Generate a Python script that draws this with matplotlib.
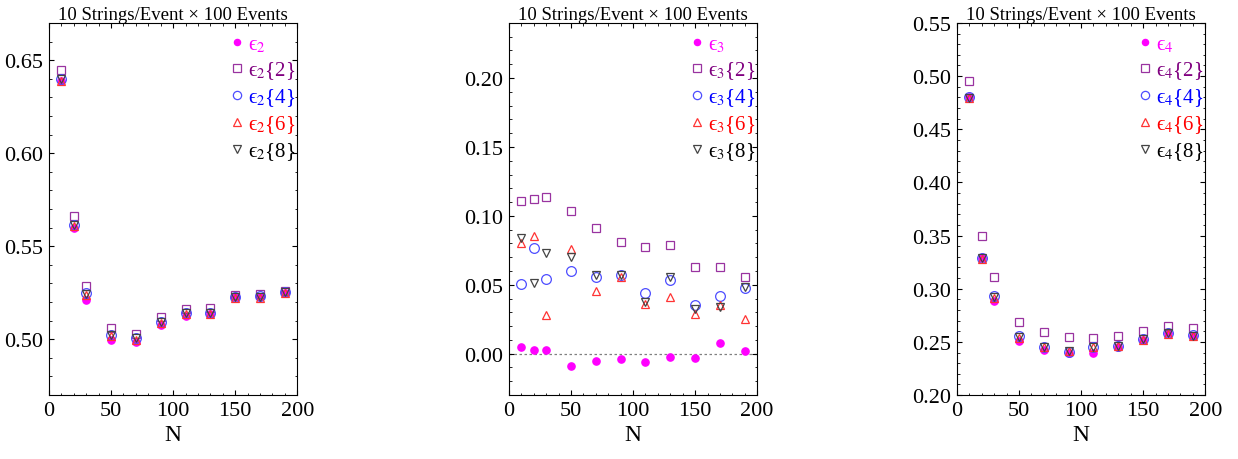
import numpy as np
import matplotlib.pyplot as plt
from matplotlib.ticker import MultipleLocator, FormatStrFormatter

plt.rcParams['font.family'] = ['Liberation Serif', 'DejaVu Serif']
plt.rcParams['mathtext.fontset'] = 'stix'

# число струн N
N = [10, 20, 30, 50, 70, 90, 110, 130, 150, 170, 190]

# eps_2
e2 = [0.6390, 0.5597, 0.5210, 0.4995, 0.4986, 0.5075, 0.5125, 0.5134, 0.5228, 0.5225, 0.5251]
e2_2 = [0.6446, 0.5661, 0.5287, 0.5063, 0.5030, 0.5122, 0.5161, 0.5167, 0.5237, 0.5244, 0.5260]
e2_4 = [0.6396, 0.5613, 0.5247, 0.5022, 0.5004, 0.5090, 0.5143, 0.5143, 0.5228, 0.5230, 0.5255]
e2_6 = [0.6390, 0.5608, 0.5240, 0.5018, 0.4998, 0.5087, 0.5135, 0.5138, 0.5222, 0.5222, 0.5250]
e2_8 = [0.6400, 0.5615, 0.5245, 0.5025, 0.5005, 0.5092, 0.5140, 0.5143, 0.5226, 0.5228, 0.5254]

# eps_3
e3 = [0.0051, 0.0029, 0.0030, -0.0092, -0.0056, -0.0041, -0.0063, -0.0022, -0.0029, 0.0080, 0.0022]
e3_2 = [0.1107, 0.1119, 0.1140, 0.1039, 0.0915, 0.0814, 0.0777, 0.0792, 0.0632, 0.0632, 0.0554]
e3_4 = [0.0509, 0.0770, 0.0545, 0.0598, 0.0560, 0.0574, 0.0443, 0.0533, 0.0351, 0.0416, 0.0479]
e3_6 = [0.0800, 0.0855, 0.0280, 0.0763, 0.0453, 0.0560, 0.0358, 0.0412, 0.0288, 0.0353, 0.0249]
e3_8 = [0.0840, 0.0516, 0.0734, 0.0700, 0.0569, 0.0574, 0.0375, 0.0554, 0.0327, 0.0339, 0.0487]

# eps_4
e4 = [0.4800, 0.3290, 0.2888, 0.2507, 0.2422, 0.2400, 0.2400, 0.2453, 0.2519, 0.2579, 0.2557]
e4_2 = [0.4950, 0.3495, 0.3108, 0.2683, 0.2589, 0.2548, 0.2541, 0.2557, 0.2598, 0.2645, 0.2630]
e4_4 = [0.4800, 0.3290, 0.2935, 0.2557, 0.2456, 0.2409, 0.2456, 0.2463, 0.2526, 0.2579, 0.2567]
e4_6 = [0.4790, 0.3280, 0.2910, 0.2540, 0.2450, 0.2410, 0.2450, 0.2460, 0.2520, 0.2570, 0.2560]
e4_8 = [0.4790, 0.3290, 0.2920, 0.2550, 0.2450, 0.2410, 0.2450, 0.2460, 0.2530, 0.2580, 0.2560]

panels = [
    (2, [e2, e2_2, e2_4, e2_6, e2_8], (0.47, 0.67), [0.50, 0.55, 0.60, 0.65]),
    (3, [e3, e3_2, e3_4, e3_6, e3_8], (-0.03, 0.24), [0.00, 0.05, 0.10, 0.15, 0.20]),
    (4, [e4, e4_2, e4_4, e4_6, e4_8], (0.20, 0.55), [0.20, 0.25, 0.30, 0.35, 0.40, 0.45, 0.50, 0.55]),
]

magenta = '#ff00ff'
purple = '#800080'
blue = '#0000ff'
red = '#ff0000'
black = '#000000'

fig = plt.figure(figsize=(12.38, 4.6), dpi=100)
lefts = [0.0396, 0.4111, 0.7730]

for left, (n, series, ylim, yt) in zip(lefts, panels):
    ax = fig.add_axes([left, 0.139, 0.2005, 0.809])
    s, s2, s4, s6, s8 = series
    ax.plot(N, s, 'o', ms=5.2, color=magenta, mec=magenta, label=f'ϵ$_{n}$')
    ax.plot(N, s2, 's', ms=6, mfc='none', mec='#9933a0', mew=0.9, label=f'ϵ$_{n}${{2}}')
    ax.plot(N, s4, 'o', ms=7, mfc='none', mec='#4d4dff', mew=0.9, label=f'ϵ$_{n}${{4}}')
    ax.plot(N, s6, '^', ms=6, mfc='none', mec='#ff3333', mew=0.9, label=f'ϵ$_{n}${{6}}')
    ax.plot(N, s8, 'v', ms=6, mfc='none', mec='#444444', mew=0.9, label=f'ϵ$_{n}${{8}}')
    if n == 3:
        ax.axhline(0, color='gray', ls=(0, (2, 2)), lw=0.9, zorder=0)

    ax.set_xlim(0, 200)
    ax.set_ylim(*ylim)
    ax.set_yticks(yt)
    ax.xaxis.set_major_locator(MultipleLocator(50))
    ax.xaxis.set_minor_locator(MultipleLocator(10))
    ax.yaxis.set_minor_locator(MultipleLocator(0.01))
    ax.yaxis.set_major_formatter(FormatStrFormatter('%.2f'))
    ax.tick_params(which='both', direction='in', top=True, right=True, labelsize=16, pad=4)
    ax.tick_params(which='major', length=3.5, width=0.8)
    ax.tick_params(which='minor', length=1.8, width=0.6)
    ax.set_xlabel('N', fontsize=17, labelpad=3)
    ax.set_title('10 Strings/Event × 100 Events', fontsize=13.5, pad=3)

    leg = ax.legend(loc='upper right', bbox_to_anchor=(1.028, 0.992), frameon=False,
                    fontsize=15, handlelength=0.8, handletextpad=0.15, labelspacing=0.25,
                    borderaxespad=0.0, markerscale=0.85)
    for t, c in zip(leg.get_texts(), [magenta, purple, blue, red, black]):
        t.set_color(c)

plt.savefig('out.png', dpi=100)
